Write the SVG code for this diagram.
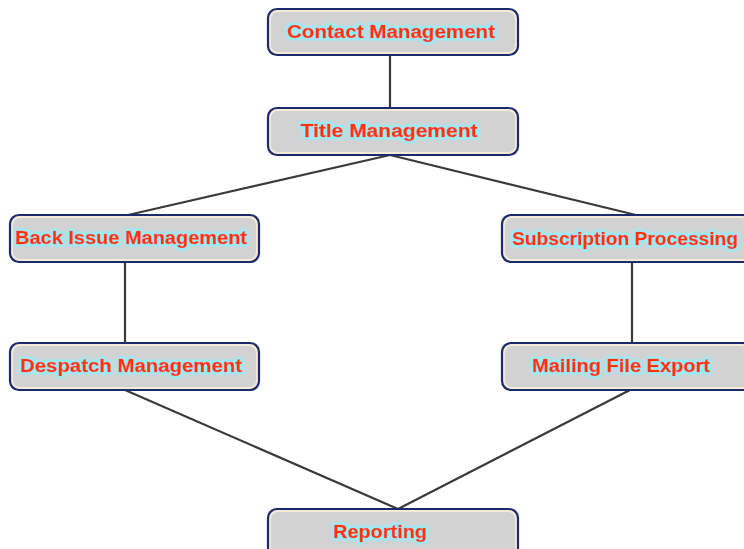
<svg xmlns="http://www.w3.org/2000/svg" width="744" height="549" viewBox="0 0 744 549">
<defs>
<filter id="glow" x="-10%" y="-40%" width="120%" height="180%">
<feMorphology in="SourceAlpha" operator="dilate" radius="1.5" result="d"/>
<feGaussianBlur in="d" stdDeviation="0.9" result="b"/>
<feFlood flood-color="#8ff0ff"/>
<feComposite in2="b" operator="in" result="g"/>
<feMerge><feMergeNode in="g"/><feMergeNode in="SourceGraphic"/></feMerge>
</filter>
</defs>
<style>
.outer{fill:#f4ead6;stroke:#1c2b6e;stroke-width:2.2}
.inner{fill:#d2d2d2;stroke:none}
.lbl{font-family:"Liberation Sans","DejaVu Sans",sans-serif;font-weight:bold;font-size:18px;fill:#ff3300;stroke:#ff3300;stroke-width:0.5;text-anchor:middle;filter:url(#glow)}
.c{stroke:#3a3a3a;stroke-width:2.2;fill:none}
</style>
<rect width="744" height="549" fill="#ffffff"/>
<g id="connectors">
<line class="c" x1="390" y1="55" x2="390" y2="108"/>
<line class="c" x1="390" y1="155" x2="128" y2="215"/>
<line class="c" x1="390" y1="155" x2="636" y2="215"/>
<line class="c" x1="125" y1="262" x2="125" y2="343"/>
<line class="c" x1="632" y1="262" x2="632" y2="343"/>
<line class="c" x1="125" y1="390" x2="398" y2="509"/>
<line class="c" x1="630" y1="390" x2="398" y2="509"/>
</g>
<g id="contact">
<rect class="outer" x="268" y="9" width="250" height="46" rx="9"/>
<rect class="inner" x="271" y="12" width="244" height="40" rx="7"/>
<text class="lbl" x="391" y="38" textLength="208" lengthAdjust="spacingAndGlyphs">Contact Management</text>
</g>
<g id="title">
<rect class="outer" x="268" y="108" width="250" height="47" rx="9"/>
<rect class="inner" x="271" y="111" width="244" height="41" rx="7"/>
<text class="lbl" x="389" y="137" textLength="177" lengthAdjust="spacingAndGlyphs">Title Management</text>
</g>
<g id="backissue">
<rect class="outer" x="10" y="215" width="249" height="47" rx="9"/>
<rect class="inner" x="13" y="218" width="243" height="41" rx="7"/>
<text class="lbl" x="131" y="244" textLength="232" lengthAdjust="spacingAndGlyphs">Back Issue Management</text>
</g>
<g id="subscription">
<rect class="outer" x="502" y="215" width="250" height="47" rx="9"/>
<rect class="inner" x="505" y="218" width="244" height="41" rx="7"/>
<text class="lbl" x="625" y="245" textLength="226" lengthAdjust="spacingAndGlyphs">Subscription Processing</text>
</g>
<g id="despatch">
<rect class="outer" x="10" y="343" width="249" height="47" rx="9"/>
<rect class="inner" x="13" y="346" width="243" height="41" rx="7"/>
<text class="lbl" x="131" y="372" textLength="222" lengthAdjust="spacingAndGlyphs">Despatch Management</text>
</g>
<g id="mailing">
<rect class="outer" x="502" y="343" width="250" height="47" rx="9"/>
<rect class="inner" x="505" y="346" width="244" height="41" rx="7"/>
<text class="lbl" x="621" y="372" textLength="178" lengthAdjust="spacingAndGlyphs">Mailing File Export</text>
</g>
<g id="reporting">
<rect class="outer" x="268" y="509" width="250" height="50" rx="9"/>
<rect class="inner" x="271" y="512" width="244" height="44" rx="7"/>
<text class="lbl" x="380" y="538" textLength="94" lengthAdjust="spacingAndGlyphs">Reporting</text>
</g>
</svg>
